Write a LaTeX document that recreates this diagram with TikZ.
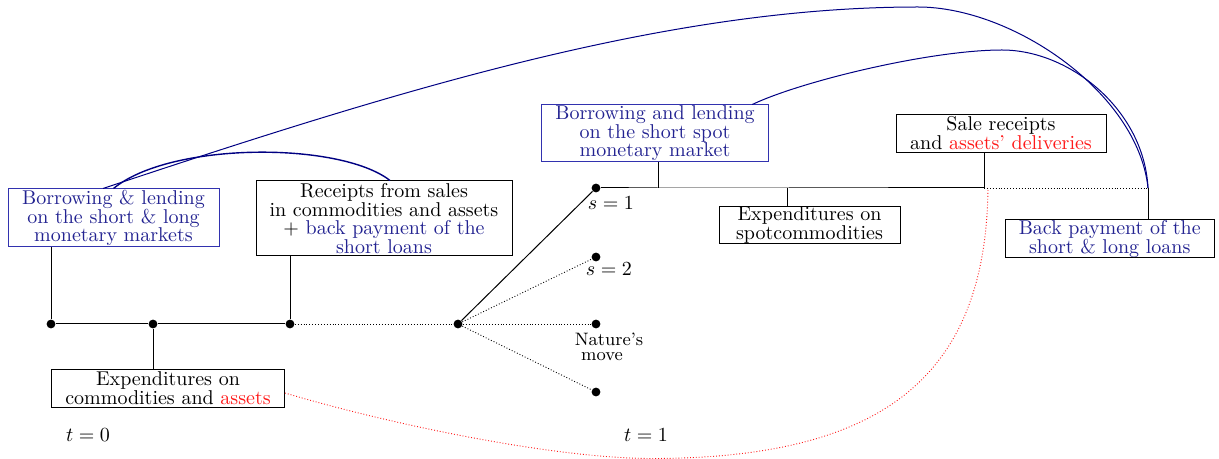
\documentclass[tikz,border=0pt]{standalone}
\usepackage{xcolor}
\definecolor{bluetext}{RGB}{35,35,145}
\definecolor{bluebox}{RGB}{50,50,175}
\definecolor{navyc}{RGB}{0,0,130}
\definecolor{redc}{RGB}{255,25,25}
\begin{document}
\begin{tikzpicture}[x=0.5pt,y=-0.5pt,
  box/.style={draw, line width=0.5pt, inner sep=0pt, align=center, font=\fontsize{10}{9.3}\selectfont},
  bbox/.style={box, draw=bluebox, text=bluetext},
  dot/.style={circle, fill, inner sep=0pt, minimum size=4.4pt},
  tl/.style={line width=0.5pt},
  dl/.style={line width=0.45pt, densely dotted},
  bcurve/.style={navyc, line width=0.5pt},
  rcurve/.style={redc, line width=0.45pt, densely dotted},
  lab/.style={inner sep=0pt, font=\fontsize{10}{12}\selectfont}]
\useasboundingbox (0,0) rectangle (1219,459);
% boxes
\node[bbox, minimum width=105.5pt, minimum height=29pt] (A) at (113.5,218) {Borrowing \& lending\\on the short \& long\\monetary markets};
\node[box, minimum width=128pt, minimum height=37.5pt] (B) at (384,218.5) {Receipts from sales\\in commodities and assets\\$+$ \textcolor{bluetext}{back payment of the}\\\textcolor{bluetext}{short loans}};
\node[box, minimum width=116.5pt, minimum height=19pt] (C) at (168,388) {Expenditures on\\commodities and \textcolor{redc}{assets}};
\node[bbox, minimum width=113.5pt, minimum height=28.3pt] (D) at (655,133.3) {Borrowing and lending\\on the short spot\\monetary market};
\node[box, minimum width=90.5pt, minimum height=18.7pt] (E) at (809.5,225.3) {Expenditures on\\spotcommodities};
\node[box, minimum width=105pt, minimum height=19pt] (F) at (1001,133.3) {Sale receipts\\and \textcolor{redc}{assets' deliveries}};
\node[box, minimum width=104.7pt, minimum height=18.8pt, text=bluetext] (G) at (1109.7,238.8) {Back payment of the\\short \& long loans};
% dots
\node[dot] (d1) at (51,324) {};
\node[dot] (d2) at (153,324) {};
\node[dot] (d3) at (290,324) {};
\node[dot] (n0) at (458,324) {};
\node[dot] (s1) at (596,188) {};
\node[dot] (s2) at (596,257) {};
\node[dot] (s3) at (596,324) {};
\node[dot] (s4) at (596,392) {};
\coordinate (j1) at (658,188);
\coordinate (j2) at (787,188);
\coordinate (j3) at (984,188);
\coordinate (j4) at (1148,188);
\coordinate (pk1) at (918,7);
\coordinate (pk2) at (1002,50);
\coordinate (rb) at (652,458.5);
% timelines
\draw[tl] (d1) -- (d2) -- (d3);
\draw[dl] (d3) -- (n0);
\draw[tl] (s1) -- (j1) -- (j2) -- (j3);
\draw[dl] (j3) -- (j4);
% verticals
\draw[tl] (d1 |- A.south) -- (d1);
\draw[tl] (d3 |- B.south) -- (d3);
\draw[tl] (d2) -- (d2 |- C.north);
\draw[tl] (j1 |- D.south) -- (j1);
\draw[tl] (j2) -- (j2 |- E.north);
\draw[tl] (j3 |- F.south) -- (j3);
\draw[tl] (j4) -- (j4 |- G.north);
% nature's tree
\draw[tl] (n0) -- (s1);
\draw[dl] (n0) -- (s2);
\draw[dl] (n0) -- (s3);
\draw[dl] (n0) -- (s4);
% labels
\node[lab] (ls1) at (611,203) {$s=1$};
\node[lab] (ls2) at (609,269) {$s=2$};
\node[inner sep=0pt, align=center, font=\fontsize{9}{7.6}\selectfont] (nm) at (602,347) {\hspace*{7pt}Nature's\\move};
\node[lab] (t0) at (88,435) {$t=0$};
\node[lab] (t1) at (646,435) {$t=1$};
% blue curves
\draw[bcurve, line width=0.7pt] (A.north) .. controls +(57,-47) and +(-50,-39) .. ([xshift=3pt]B.north);
\draw[bcurve] ([xshift=-5.25pt]A.north) .. controls +(300,-100) and +(-250,0) .. (pk1) .. controls +(95,0) and +(-10,-95) .. (j4);
\draw[bcurve] ([xshift=-8.35pt]D.north east) .. controls +(48,-23) and +(-72,0) .. (pk2) .. controls +(68,0) and +(-4,-78) .. (j4);
% red curve
\draw[rcurve] ([yshift=-2.5pt]C.east) .. controls +(100,30) and +(-100,0) .. (rb) .. controls +(235,0) and +(-2,185) .. ([xshift=2pt]j3);
\end{tikzpicture}
\end{document}
